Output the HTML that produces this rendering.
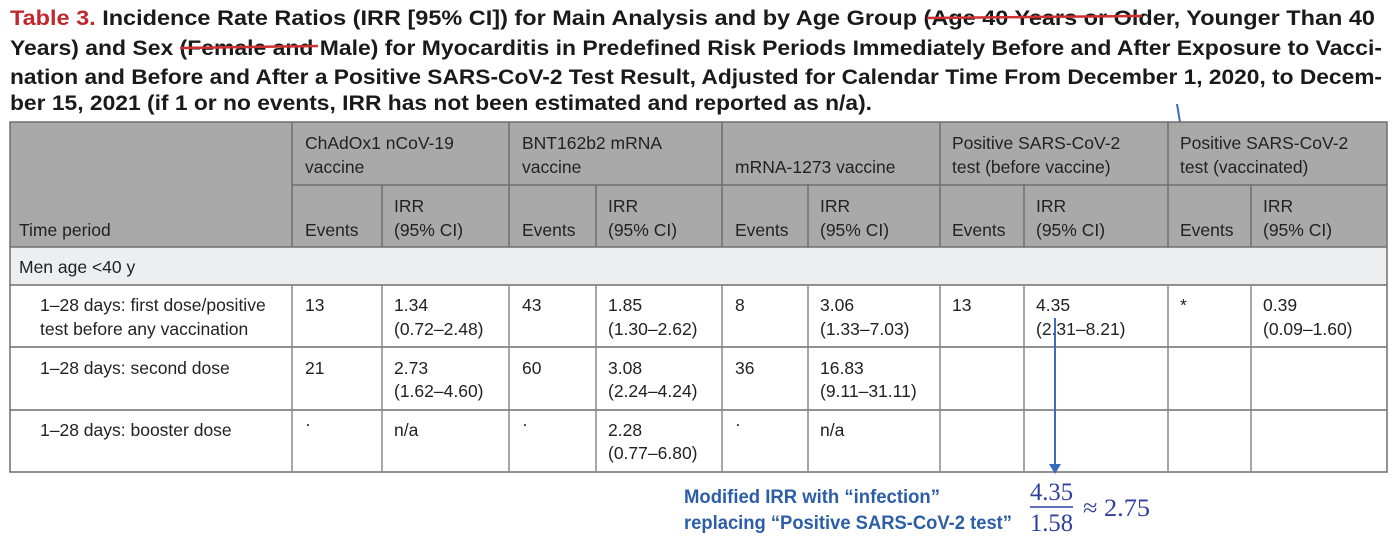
<!DOCTYPE html>
<html><head><meta charset="utf-8"><style>
html,body{margin:0;padding:0;background:#fff;width:1397px;height:537px;overflow:hidden}
svg{display:block}
.t{font-family:"Liberation Sans",sans-serif;font-weight:bold;font-size:21px;fill:#1a1a1a}
.c{font-family:"Liberation Sans",sans-serif;font-size:17.5px;fill:#222}
.b{font-family:"Liberation Sans",sans-serif;font-weight:bold;font-size:19px;fill:#2c5ea8}
.m{font-family:"Liberation Serif",serif;font-size:25px;fill:#2e3f9e}
</style></head><body>
<svg width="1397" height="537" xmlns="http://www.w3.org/2000/svg">
<text class="t" x="10" y="25" textLength="1365" lengthAdjust="spacingAndGlyphs"><tspan fill="#c0282d">Table 3.</tspan>   Incidence Rate Ratios (IRR [95% CI]) for Main Analysis and by Age Group (Age 40 Years or Older, Younger Than 40</text>
<line x1="927" y1="18" x2="1142" y2="16" stroke="#d03030" stroke-width="2.5"/>
<text class="t" x="10" y="55" textLength="1372" lengthAdjust="spacingAndGlyphs">Years) and Sex (Female and Male) for Myocarditis in Predefined Risk Periods Immediately Before and After Exposure to Vacci-</text>
<line x1="180" y1="48" x2="318" y2="46" stroke="#d03030" stroke-width="2.5"/>
<text class="t" x="10" y="84" textLength="1372" lengthAdjust="spacingAndGlyphs">nation and Before and After a Positive SARS-CoV-2 Test Result, Adjusted for Calendar Time From December 1, 2020, to Decem-</text>
<text class="t" x="10" y="110" textLength="862" lengthAdjust="spacingAndGlyphs">ber 15, 2021 (if 1 or no events, IRR has not been estimated and reported as n/a).</text>
<line x1="1177" y1="104" x2="1180" y2="122" stroke="#3a6bc0" stroke-width="2"/>
<rect x="10" y="122" width="1377" height="125" fill="#a9a9a9"/>
<rect x="10" y="247" width="1377" height="38" fill="#eceef0"/>
<g stroke="#6e6e6e" stroke-width="1.5" fill="none">
<rect x="10" y="122" width="1377" height="350"/>
<line x1="292" y1="185" x2="1387" y2="185"/>
<line x1="10" y1="247" x2="1387" y2="247"/>
<line x1="10" y1="285" x2="1387" y2="285"/>
<line x1="10" y1="347" x2="1387" y2="347"/>
<line x1="10" y1="410" x2="1387" y2="410"/>
<line x1="292" y1="122" x2="292" y2="247"/><line x1="509" y1="122" x2="509" y2="247"/><line x1="722" y1="122" x2="722" y2="247"/><line x1="940" y1="122" x2="940" y2="247"/><line x1="1168" y1="122" x2="1168" y2="247"/>
<line x1="382" y1="185" x2="382" y2="247"/><line x1="596" y1="185" x2="596" y2="247"/><line x1="808" y1="185" x2="808" y2="247"/><line x1="1024" y1="185" x2="1024" y2="247"/><line x1="1251" y1="185" x2="1251" y2="247"/>
<g stroke="#888">
<line x1="292" y1="285" x2="292" y2="472"/><line x1="382" y1="285" x2="382" y2="472"/><line x1="509" y1="285" x2="509" y2="472"/><line x1="596" y1="285" x2="596" y2="472"/><line x1="722" y1="285" x2="722" y2="472"/><line x1="808" y1="285" x2="808" y2="472"/><line x1="940" y1="285" x2="940" y2="472"/><line x1="1024" y1="285" x2="1024" y2="472"/><line x1="1168" y1="285" x2="1168" y2="472"/><line x1="1251" y1="285" x2="1251" y2="472"/>
</g></g>
<g class="c">
<text x="305" y="149">ChAdOx1 nCoV-19</text><text x="305" y="173">vaccine</text>
<text x="522" y="149">BNT162b2 mRNA</text><text x="522" y="173">vaccine</text>
<text x="735" y="173">mRNA-1273 vaccine</text>
<text x="952" y="149">Positive SARS-CoV-2</text><text x="952" y="173">test (before vaccine)</text>
<text x="1180" y="149">Positive SARS-CoV-2</text><text x="1180" y="173">test (vaccinated)</text>
<text x="19" y="236">Time period</text>
<text x="305" y="236">Events</text><text x="394" y="212">IRR</text><text x="394" y="236">(95% CI)</text>
<text x="522" y="236">Events</text><text x="608" y="212">IRR</text><text x="608" y="236">(95% CI)</text>
<text x="735" y="236">Events</text><text x="820" y="212">IRR</text><text x="820" y="236">(95% CI)</text>
<text x="952" y="236">Events</text><text x="1036" y="212">IRR</text><text x="1036" y="236">(95% CI)</text>
<text x="1180" y="236">Events</text><text x="1263" y="212">IRR</text><text x="1263" y="236">(95% CI)</text>
<text x="19" y="273">Men age &lt;40 y</text>
<text x="40" y="311">1–28 days: first dose/positive</text><text x="40" y="335">test before any vaccination</text>
<text x="305" y="311">13</text><text x="394" y="311">1.34</text><text x="394" y="335">(0.72–2.48)</text>
<text x="522" y="311">43</text><text x="608" y="311">1.85</text><text x="608" y="335">(1.30–2.62)</text>
<text x="735" y="311">8</text><text x="820" y="311">3.06</text><text x="820" y="335">(1.33–7.03)</text>
<text x="952" y="311">13</text><text x="1036" y="311">4.35</text><text x="1036" y="335">(2.31–8.21)</text>
<text x="1180" y="311">*</text><text x="1263" y="311">0.39</text><text x="1263" y="335">(0.09–1.60)</text>
<text x="40" y="374">1–28 days: second dose</text>
<text x="305" y="374">21</text><text x="394" y="374">2.73</text><text x="394" y="397">(1.62–4.60)</text>
<text x="522" y="374">60</text><text x="608" y="374">3.08</text><text x="608" y="397">(2.24–4.24)</text>
<text x="735" y="374">36</text><text x="820" y="374">16.83</text><text x="820" y="397">(9.11–31.11)</text>
<text x="40" y="436">1–28 days: booster dose</text>
<text x="305" y="430">·</text><text x="394" y="436">n/a</text>
<text x="522" y="430">·</text><text x="608" y="436">2.28</text><text x="608" y="459">(0.77–6.80)</text>
<text x="735" y="430">·</text><text x="820" y="436">n/a</text>
</g>
<line x1="1055" y1="318" x2="1055" y2="466" stroke="#3a6bc0" stroke-width="2"/>
<polygon points="1049,464 1061,464 1055,474" fill="#3a6bc0"/>
<text class="b" x="684" y="503" textLength="256" lengthAdjust="spacingAndGlyphs">Modified IRR with “infection”</text>
<text class="b" x="684" y="529" textLength="328" lengthAdjust="spacingAndGlyphs">replacing “Positive SARS-CoV-2 test”</text>
<text class="m" x="1030" y="500" textLength="43" lengthAdjust="spacingAndGlyphs">4.35</text>
<line x1="1030" y1="507" x2="1073" y2="507" stroke="#2e3f9e" stroke-width="1.5"/>
<text class="m" x="1030" y="531" textLength="43" lengthAdjust="spacingAndGlyphs">1.58</text>
<text class="m" x="1083" y="516" textLength="67" lengthAdjust="spacingAndGlyphs">≈ 2.75</text>
</svg>
</body></html>
